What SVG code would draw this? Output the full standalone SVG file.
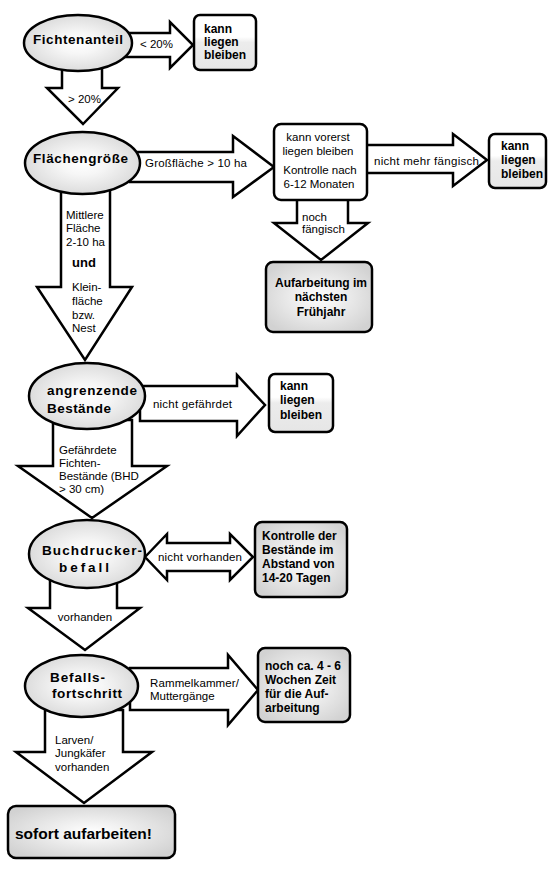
<svg xmlns="http://www.w3.org/2000/svg" width="552" height="877" viewBox="0 0 552 877">
<defs>
<radialGradient id="ge" cx="50%" cy="50%" r="55%">
<stop offset="0" stop-color="#ffffff"/>
<stop offset="0.35" stop-color="#f6f6f6"/>
<stop offset="1" stop-color="#d8d8d8"/>
</radialGradient>
<radialGradient id="gb" cx="50%" cy="50%" r="60%">
<stop offset="0" stop-color="#ffffff"/>
<stop offset="0.3" stop-color="#f2f2f2"/>
<stop offset="1" stop-color="#d2d2d2"/>
</radialGradient>
<linearGradient id="gl" x1="0" y1="0" x2="0" y2="1">
<stop offset="0" stop-color="#ffffff"/>
<stop offset="0.4" stop-color="#ffffff"/>
<stop offset="0.5" stop-color="#ececec"/>
<stop offset="1" stop-color="#e6e6e6"/>
</linearGradient>
</defs>
<style>
.arr{fill:#ffffff;stroke:#000000;stroke-width:2.5;stroke-linejoin:miter}
.ell{fill:url(#ge);stroke:#000000;stroke-width:2.5}
.box{stroke:#000000;stroke-width:2.5}
.bw{fill:#ffffff}
.bl{fill:url(#gl)}
.bg{fill:url(#gb)}
text{font-family:"Liberation Sans",Arial,sans-serif;fill:#000000}
.nb{font-size:13.5px;font-weight:bold}
.bb{font-size:12px;font-weight:bold}
.big{font-size:15.5px;font-weight:bold}
.und{font-size:13px;font-weight:bold}
.lb{font-size:11.5px}
.mid{text-anchor:middle}
</style>
<rect width="552" height="877" fill="#ffffff"/>
<g id="connectors">
<polygon class="arr" points="120,33 170,33 170,22 193,45 170,68 170,57 120,57"/>
<polygon class="arr" points="62,60 102,60 102,88 118,88 83,124 47,88 62,88"/>
<polygon class="arr" points="130,152 233,152 233,136 274,167 233,197 233,182 130,182"/>
<polygon class="arr" points="61,185 110,185 110,287 132,287 85,360 37,287 61,287"/>
<polygon class="arr" points="360,145 453,145 453,134 487,160 453,186 453,173 360,173"/>
<polygon class="arr" points="297,195 348,195 348,223 368,223 321,260 274,223 297,223"/>
<polygon class="arr" points="140,386 237,386 237,375 265,405 237,436 237,421 140,421"/>
<polygon class="arr" points="53,420 132,420 132,466 167,466 92,518 18,466 53,466"/>
<polygon class="arr" points="145,557 167,534 167,543 230,543 230,534 253,557 230,580 230,571 167,571 167,580"/>
<polygon class="arr" points="50,580 117,580 117,608 140,608 85,650 28,608 50,608"/>
<polygon class="arr" points="130,668 228,668 228,655 258,690 228,725 228,710 130,710"/>
<polygon class="arr" points="45,710 123,710 123,752 152,752 84,803 16,752 45,752"/>
<text class="lb" x="140" y="48">&lt; 20%</text>
<text class="lb" x="68" y="103">&gt; 20%</text>
<text class="lb" x="145" y="167" textLength="102" lengthAdjust="spacing">Großfläche &gt; 10 ha</text>
<text class="lb" x="66" y="219">Mittlere</text>
<text class="lb" x="66" y="232">Fläche</text>
<text class="lb" x="66" y="246">2-10 ha</text>
<text class="und" x="72" y="267">und</text>
<text class="lb" x="72" y="291">Klein-</text>
<text class="lb" x="72" y="305">fläche</text>
<text class="lb" x="72" y="319">bzw.</text>
<text class="lb" x="72" y="332">Nest</text>
<text class="lb" x="374" y="165" textLength="105" lengthAdjust="spacing">nicht mehr fängisch</text>
<text class="lb" x="302" y="221">noch</text>
<text class="lb" x="302" y="233">fängisch</text>
<text class="lb" x="153" y="408" textLength="79" lengthAdjust="spacing">nicht gefährdet</text>
<text class="lb" x="59" y="454">Gefährdete</text>
<text class="lb" x="59" y="467">Fichten-</text>
<text class="lb" x="59" y="480">Bestände (BHD</text>
<text class="lb" x="59" y="493">&gt; 30 cm)</text>
<text class="lb" x="158" y="561" textLength="84" lengthAdjust="spacing">nicht vorhanden</text>
<text class="lb mid" x="85" y="621">vorhanden</text>
<text class="lb" x="150" y="687" textLength="89" lengthAdjust="spacing">Rammelkammer/</text>
<text class="lb" x="150" y="700">Muttergänge</text>
<text class="lb" x="55" y="744">Larven/</text>
<text class="lb" x="55" y="757">Jungkäfer</text>
<text class="lb" x="55" y="771">vorhanden</text>
</g>
<g id="n-fichtenanteil">
<ellipse class="ell" cx="78" cy="43" rx="54" ry="28"/>
<text class="nb" x="33" y="44" textLength="90" lengthAdjust="spacing">Fichtenanteil</text>
</g>
<g id="n-kann1">
<rect class="box bl" x="194" y="15" width="62" height="55" rx="6"/>
<text class="bb" x="204" y="33">kann</text>
<text class="bb" x="204" y="46">liegen</text>
<text class="bb" x="204" y="59">bleiben</text>
</g>
<g id="n-flaechengroesse">
<ellipse class="ell" cx="82.5" cy="163" rx="57.5" ry="31"/>
<text class="nb" x="33" y="163" textLength="95" lengthAdjust="spacing">Flächengröße</text>
</g>
<g id="n-vorerst">
<rect class="box bw" x="274" y="124" width="93" height="76" rx="7"/>
<text class="lb mid" x="318" y="141">kann vorerst</text>
<text class="lb mid" x="318" y="155">liegen bleiben</text>
<text class="lb mid" x="320" y="174">Kontrolle nach</text>
<text class="lb mid" x="319" y="188">6-12 Monaten</text>
</g>
<g id="n-kann2">
<rect class="box bl" x="489" y="134" width="57" height="54" rx="6"/>
<text class="bb" x="501" y="150">kann</text>
<text class="bb" x="501" y="164">liegen</text>
<text class="bb" x="501" y="178">bleiben</text>
</g>
<g id="n-fruehjahr">
<rect class="box bg" x="266" y="262" width="106" height="70" rx="7"/>
<text class="bb mid" x="321" y="287">Aufarbeitung im</text>
<text class="bb mid" x="321" y="301">nächsten</text>
<text class="bb mid" x="321" y="316">Frühjahr</text>
</g>
<g id="n-angrenzende">
<ellipse class="ell" cx="87" cy="396" rx="58" ry="33"/>
<text class="nb" x="47" y="395" textLength="90" lengthAdjust="spacing">angrenzende</text>
<text class="nb" x="47" y="413" textLength="64" lengthAdjust="spacing">Bestände</text>
</g>
<g id="n-kann3">
<rect class="box bl" x="269" y="374" width="64" height="58" rx="6"/>
<text class="bb" x="280" y="390">kann</text>
<text class="bb" x="280" y="404">liegen</text>
<text class="bb" x="280" y="419">bleiben</text>
</g>
<g id="n-buchdrucker">
<ellipse class="ell" cx="87" cy="554" rx="58" ry="34"/>
<text class="nb" x="42" y="555" textLength="100" lengthAdjust="spacing">Buchdrucker-</text>
<text class="nb" x="59" y="572" textLength="50" lengthAdjust="spacing">befall</text>
</g>
<g id="n-kontrolle">
<rect class="box bg" x="255" y="522" width="92" height="75" rx="7"/>
<text class="bb" x="262" y="540">Kontrolle der</text>
<text class="bb" x="262" y="554">Bestände im</text>
<text class="bb" x="262" y="568">Abstand von</text>
<text class="bb" x="262" y="582">14-20 Tagen</text>
</g>
<g id="n-befall">
<ellipse class="ell" cx="81.5" cy="686" rx="56.5" ry="31"/>
<text class="nb" x="50" y="682" textLength="55" lengthAdjust="spacing">Befalls-</text>
<text class="nb" x="52" y="698" textLength="70" lengthAdjust="spacing">fortschritt</text>
</g>
<g id="n-wochen">
<rect class="box bg" x="258" y="648" width="92" height="74" rx="7"/>
<text class="bb" x="265" y="670">noch ca. 4 - 6</text>
<text class="bb" x="265" y="684">Wochen Zeit</text>
<text class="bb" x="265" y="698">für die Auf-</text>
<text class="bb" x="265" y="712">arbeitung</text>
</g>
<g id="n-sofort">
<rect class="box bg" x="8" y="806" width="167" height="52" rx="8"/>
<text class="big" x="15" y="839">sofort aufarbeiten!</text>
</g>
</svg>
